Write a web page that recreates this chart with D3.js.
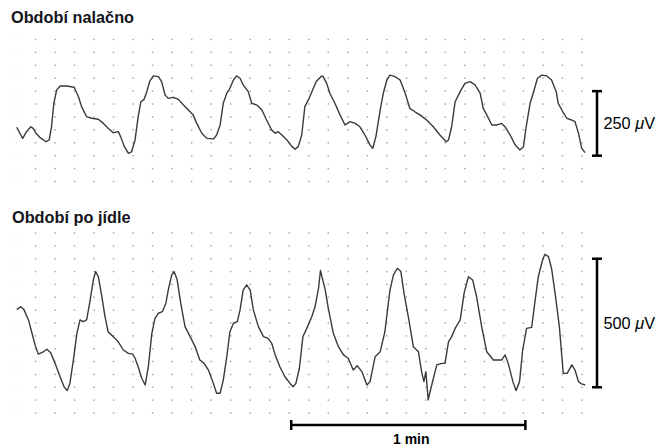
<!DOCTYPE html>
<html><head><meta charset="utf-8">
<script src="https://cdn.jsdelivr.net/npm/d3@7/dist/d3.min.js"></script>
<style>html,body{margin:0;padding:0;background:#fff;}svg{display:block;}</style>
</head><body>
<svg id="c" width="662" height="446"></svg>
<script>
// ---- data (time in s, amplitude in µV) ----
const panelTitles = ["Období nalačno", "Období po jídle"];
const scaleLabels = ["250 ", "500 "];
const timeBarLabel = "1 min";

const fastingTime = [0.2,1.7,2.7,3.8,4.4,5.1,6.1,7.7,8.5,9.1,9.7,10.4,11.3,13.0,14.9,16.0,16.8,18.1,19.4,21.1,22.4,23.6,24.9,26.2,26.8,27.7,28.8,29.6,30.5,31.3,32.0,32.8,33.5,34.3,35.2,36.5,37.3,38.2,39.0,40.3,41.6,42.9,44.6,45.4,46.3,47.6,48.9,50.6,51.4,52.3,53.1,54.0,54.8,55.7,56.5,57.4,58.2,59.5,60.4,61.7,63.0,64.2,65.5,66.4,67.2,68.1,69.4,70.6,71.5,72.3,73.2,74.0,74.9,75.8,76.9,78.3,78.7,79.6,80.4,81.7,83.0,84.3,85.6,86.9,88.1,89.4,90.7,91.4,92.2,93.3,94.1,95.0,95.8,97.1,98.4,99.7,100.9,102.2,103.5,105.2,106.9,108.6,110.2,110.8,111.6,112.5,113.8,115.0,116.3,117.6,118.9,119.7,120.6,121.9,123.2,124.4,125.3,126.6,127.9,129.1,130.0,130.7,131.7,132.5,133.6,134.7,136.0,137.2,138.4,138.9,140.1,141.1,142.4,143.2,144.1,144.9,145.8];
const fastingAmp = [210,167,193,212,206,187,171,154,161,212,303,354,370,370,365,328,290,251,245,241,225,206,189,193,174,137,109,115,161,251,309,318,348,390,409,406,387,335,322,326,318,296,270,258,225,187,167,165,180,219,303,342,361,393,409,400,374,348,303,296,277,238,199,187,193,180,161,137,125,135,180,290,316,348,387,409,406,380,342,303,258,219,232,225,212,180,141,129,174,277,342,393,412,406,393,342,283,270,258,238,212,180,154,161,212,309,348,380,387,374,342,283,258,219,219,225,212,180,141,122,135,212,303,342,400,412,409,393,348,303,270,245,238,232,187,129,112];

const fedTime = [0.2,1.2,2.0,3.2,4.0,4.9,5.7,7.0,7.9,8.9,10.0,11.3,12.3,13.1,13.8,14.7,15.6,16.4,17.2,18.1,19.0,19.8,20.4,21.1,22.0,22.8,23.6,24.9,26.2,27.5,28.8,29.9,30.5,31.3,32.2,33.1,33.9,34.8,35.6,36.5,37.5,38.4,39.0,39.9,40.5,41.3,42.2,43.3,44.6,45.9,47.1,48.2,49.3,50.4,51.4,52.3,53.1,54.0,54.8,55.7,56.7,57.4,58.2,59.1,60.0,60.8,62.1,63.4,64.6,65.5,66.4,67.6,68.9,70.2,71.0,71.7,72.6,73.5,74.5,75.8,76.6,77.5,78.0,79.2,80.0,81.3,82.6,83.9,85.1,86.4,87.4,88.6,89.9,90.7,92.0,93.3,94.5,95.8,96.7,97.7,98.6,99.4,100.5,101.8,103.1,103.9,104.5,105.0,105.6,106.5,107.8,109.1,109.9,110.8,111.6,112.5,113.8,114.8,115.9,117.0,118.0,119.3,120.6,122.3,124.4,125.3,126.1,127.3,128.1,129.0,129.8,130.8,132.1,133.0,133.8,134.9,135.5,136.4,137.2,138.1,139.2,140.2,141.2,142.4,143.2,144.1,144.9,145.8];
const fedAmp = [403,413,403,362,316,264,229,238,248,234,193,141,102,87,115,206,310,362,355,362,439,517,550,530,452,375,316,297,277,245,232,229,213,180,135,109,180,310,368,388,394,427,478,537,550,517,427,336,297,258,206,193,167,122,77,77,128,219,316,349,355,401,478,498,478,401,336,297,290,271,226,180,141,115,102,115,174,297,329,375,413,485,554,480,408,310,258,226,213,167,184,161,109,122,219,238,316,478,537,563,550,466,375,258,238,161,122,161,51,109,187,193,193,277,297,329,362,466,530,517,452,336,238,206,206,226,193,122,87,122,245,329,333,439,530,595,617,608,563,466,336,154,154,187,167,122,113,109];

const gridTimes = [0,5,10,15,20,25,30,35,40,45,50,55,60,65,70,75,80,85,90,95,100,105,110,115,120,125,130,135,140,145];
const fastingGridAmp = [0,50,100,150,200,250,300,350,400,450,500,550];
const fedGridAmp = [0,50,100,150,200,250,300,350,400,450,500,550,600,650,700];
const fastingBar = [100, 350];
const fedBar = [100, 600];
const timeBar = [70.5, 130.5];

// ---- drawing ----
const svg = d3.select("#c");
const font = "'Liberation Sans', Arial, Helvetica, sans-serif";
const x = d3.scaleLinear().domain([0, 145]).range([16, 582]);
const yTop = d3.scaleLinear().domain([0, 550]).range([181.5, 39.5]);
const yBot = d3.scaleLinear().domain([0, 700]).range([413, 233]);

function grid(yScale, amps) {
  const g = svg.append("g");
  gridTimes.forEach((t, i) => {
    amps.forEach(a => {
      g.append("rect")
        .attr("x", x(t) - 0.75).attr("y", yScale(a) - 0.75)
        .attr("width", 1.5).attr("height", 1.5)
        .attr("fill", i === 0 ? "#e4e4e4" : "#a8a8a8");
    });
  });
}
grid(yTop, fastingGridAmp);
grid(yBot, fedGridAmp);

function trace(ts, vs, yScale) {
  const line = d3.line().x(d => x(d[0])).y(d => yScale(d[1])).curve(d3.curveLinear);
  svg.append("path")
    .datum(ts.map((t, i) => [t, vs[i]]))
    .attr("d", line)
    .attr("fill", "none")
    .attr("stroke", "#3a3a3a")
    .attr("stroke-width", 1.4)
    .attr("stroke-linejoin", "round");
}
trace(fastingTime, fastingAmp, yTop);
trace(fedTime, fedAmp, yBot);

// titles
svg.append("text").attr("x", 11).attr("y", 23).text(panelTitles[0])
  .attr("font-family", font).attr("font-weight", "bold").attr("font-size", 16.3).attr("fill", "#141420");
svg.append("text").attr("x", 12).attr("y", 222.5).text(panelTitles[1])
  .attr("font-family", font).attr("font-weight", "bold").attr("font-size", 16.3).attr("fill", "#141420");

// vertical scale bars
function vbar(yScale, range, label) {
  const bx = 597, cap = 5;
  const g = svg.append("g").attr("stroke", "#000").attr("stroke-width", 2.5);
  g.append("line").attr("x1", bx).attr("x2", bx).attr("y1", yScale(range[0])).attr("y2", yScale(range[1]));
  g.append("line").attr("x1", bx - cap).attr("x2", bx + cap).attr("y1", yScale(range[0])).attr("y2", yScale(range[0]));
  g.append("line").attr("x1", bx - cap).attr("x2", bx + cap).attr("y1", yScale(range[1])).attr("y2", yScale(range[1]));
  const mid = (yScale(range[0]) + yScale(range[1])) / 2;
  const t = svg.append("text").attr("x", 603.5).attr("y", mid + 5.8)
    .attr("font-family", font).attr("font-size", 16.3).attr("fill", "#000");
  t.append("tspan").text(label);
  t.append("tspan").attr("font-style", "italic").text("\u03bc");
  t.append("tspan").text("V");
}
vbar(yTop, fastingBar, scaleLabels[0]);
vbar(yBot, fedBar, scaleLabels[1]);

// time bar
const ty = 425;
const tg = svg.append("g").attr("stroke", "#000").attr("stroke-width", 2.5);
tg.append("line").attr("x1", x(timeBar[0])).attr("x2", x(timeBar[1])).attr("y1", ty).attr("y2", ty);
tg.append("line").attr("x1", x(timeBar[0])).attr("x2", x(timeBar[0])).attr("y1", ty - 5).attr("y2", ty + 5);
tg.append("line").attr("x1", x(timeBar[1])).attr("x2", x(timeBar[1])).attr("y1", ty - 5).attr("y2", ty + 5);
svg.append("text").attr("x", (x(timeBar[0]) + x(timeBar[1])) / 2 + 3).attr("y", 443.5)
  .attr("text-anchor", "middle").attr("font-family", font).attr("font-weight", "bold")
  .attr("font-size", 14).attr("fill", "#000").text(timeBarLabel);
</script>
</body></html>
